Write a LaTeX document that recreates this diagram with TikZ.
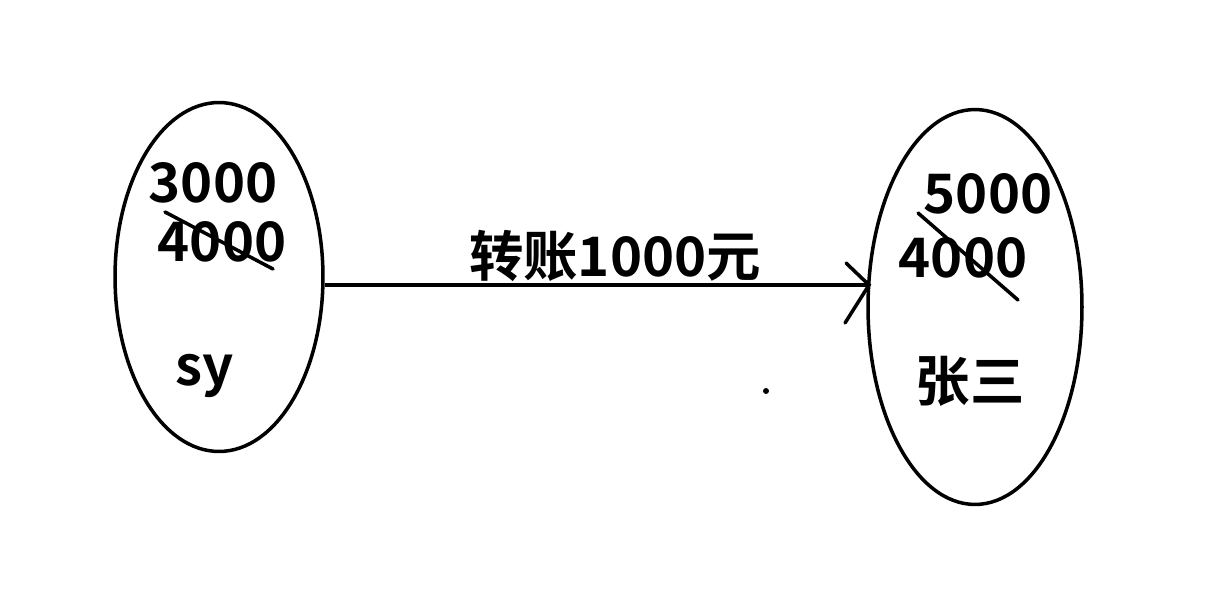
\documentclass[tikz,border=0pt]{standalone}
\usepackage{fontspec}
\setmainfont{Noto Sans CJK SC}[BoldFont={* Bold}]
\usetikzlibrary{shapes.geometric, calc}
\tikzset{%
    acc/.style={ellipse, draw, line width=2pt, inner sep=0pt},
    num/.style={inner sep=0pt, font=\fontsize{31}{36}\selectfont\bfseries},
    pri/.style={line width=2pt},
    strk/.style={line width=2pt, line cap=round},
}

\begin{document}
\begin{tikzpicture}[x=0.02cm, y=-0.02cm]
    \useasboundingbox (0,0) rectangle (1212,615);
    % accounts
    \node[acc, minimum width=4.16cm, minimum height=6.98cm] (sy) at (219,277) {};
    \node[acc, minimum width=4.28cm, minimum height=7.9cm] (zs) at (975,307) {};
    % balances
    \node[num] (syold) at (213,183) {3000};
    \node[num] (synew) at (222,242) {4000};
    \node[num] (syname) at (205,376) {sy};
    \node[num] (zsnew) at (988,194) {5000};
    \node[num] (zsold) at (963,258) {4000};
    \node[num] (zsname) at (970,381) {张三};
    \draw [strk] (165,212) -- (273,269);
    \draw [strk] (918,213) -- (1018,300);
    % transfer
    \coordinate (tip) at (869,285);
    \draw [pri] (sy.east |- tip) -- (tip);
    \draw [strk] (846,263) -- (tip) -- (845,323);
    \node[num] (amt) at (615,256) {转账1000元};
    \fill (766,391) circle (3);
\end{tikzpicture}
\end{document}
